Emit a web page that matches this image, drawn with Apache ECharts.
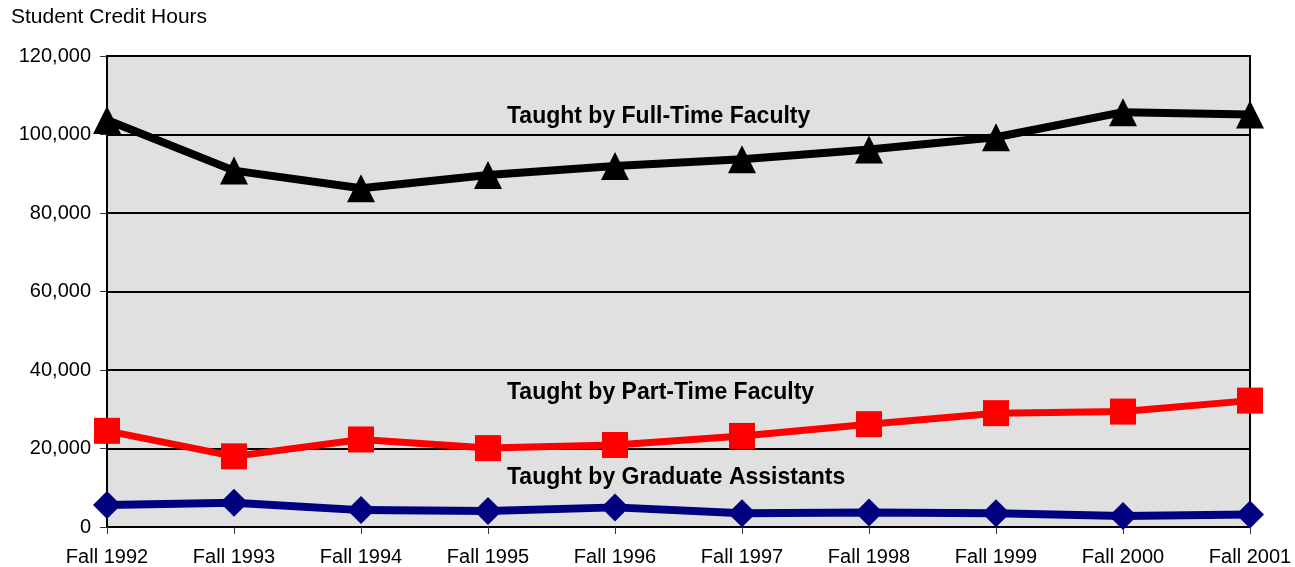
<!DOCTYPE html>
<html>
<head>
<meta charset="utf-8">
<script src="https://cdn.jsdelivr.net/npm/echarts@6/dist/echarts.min.js"></script>
<style>
html,body{margin:0;padding:0;background:#fff;}
#chart{width:1295px;height:567px;}
</style>
</head>
<body>
<div id="chart"></div>
<script>
const categories = ['Fall 1992','Fall 1993','Fall 1994','Fall 1995','Fall 1996','Fall 1997','Fall 1998','Fall 1999','Fall 2000','Fall 2001'];
const fullTime = [103700, 90800, 86300, 89700, 92000, 93700, 96200, 99300, 105700, 105100];
const partTime = [24500, 18000, 22300, 20100, 20900, 23200, 26200, 29000, 29400, 32200];
const gradAssist = [5600, 6200, 4300, 4100, 5000, 3500, 3700, 3500, 2800, 3200];
const seriesNames = ['Taught by Full-Time Faculty','Taught by Part-Time Faculty','Taught by Graduate Assistants'];
const yTitle = 'Student Credit Hours';

const chart = echarts.init(document.getElementById('chart'));
const font = '"Liberation Sans", Arial, sans-serif';
chart.setOption({
  animation: false,
  backgroundColor: '#fff',
  textStyle: {fontFamily: font},
  title: {
    text: yTitle, left: 6, top: 2,
    textStyle: {fontFamily: font, fontSize: 21, fontWeight: 'normal', color: '#000'}
  },
  grid: {
    left: 107, right: 45, top: 56, bottom: 40,
    show: true, backgroundColor: '#e0e0e0', borderColor: '#000', borderWidth: 2
  },
  xAxis: {
    type: 'category', data: categories, boundaryGap: false,
    axisLine: {lineStyle: {color: '#000', width: 2}},
    axisTick: {show: true, length: 7, lineStyle: {color: '#333', width: 1}},
    axisLabel: {color: '#000', fontSize: 20, fontFamily: font, margin: 20, interval: 0},
    splitLine: {show: false}
  },
  yAxis: {
    type: 'value', min: 0, max: 120000, interval: 20000,
    axisLine: {show: true, lineStyle: {color: '#000', width: 2}},
    axisTick: {show: true, length: 7, lineStyle: {color: '#333', width: 1}},
    axisLabel: {color: '#000', fontSize: 20, fontFamily: font, margin: 16,
      formatter: v => v.toLocaleString('en-US')},
    splitLine: {show: true, lineStyle: {color: '#000', width: 2}}
  },
  graphic: [
    {type: 'text', left: 507, top: 105, style: {text: seriesNames[0], font: 'bold 23px ' + font, fill: '#000'}},
    {type: 'text', left: 507, top: 381, style: {text: seriesNames[1], font: 'bold 23px ' + font, fill: '#000'}},
    {type: 'text', left: 507, top: 466, style: {text: seriesNames[2], font: 'bold 23px ' + font, fill: '#000'}}
  ],
  series: [
    {name: seriesNames[2], type: 'line', data: gradAssist, symbol: 'diamond', symbolSize: [28, 28],
      lineStyle: {color: '#000080', width: 8}, itemStyle: {color: '#000080'}, z: 3},
    {name: seriesNames[1], type: 'line', data: partTime, symbol: 'rect', symbolSize: [26, 26],
      lineStyle: {color: '#ff0000', width: 7}, itemStyle: {color: '#ff0000'}, z: 4},
    {name: seriesNames[0], type: 'line', data: fullTime, symbol: 'triangle', symbolSize: [28, 28],
      lineStyle: {color: '#000', width: 8}, itemStyle: {color: '#000'}, z: 5}
  ]
});
</script>
</body>
</html>
